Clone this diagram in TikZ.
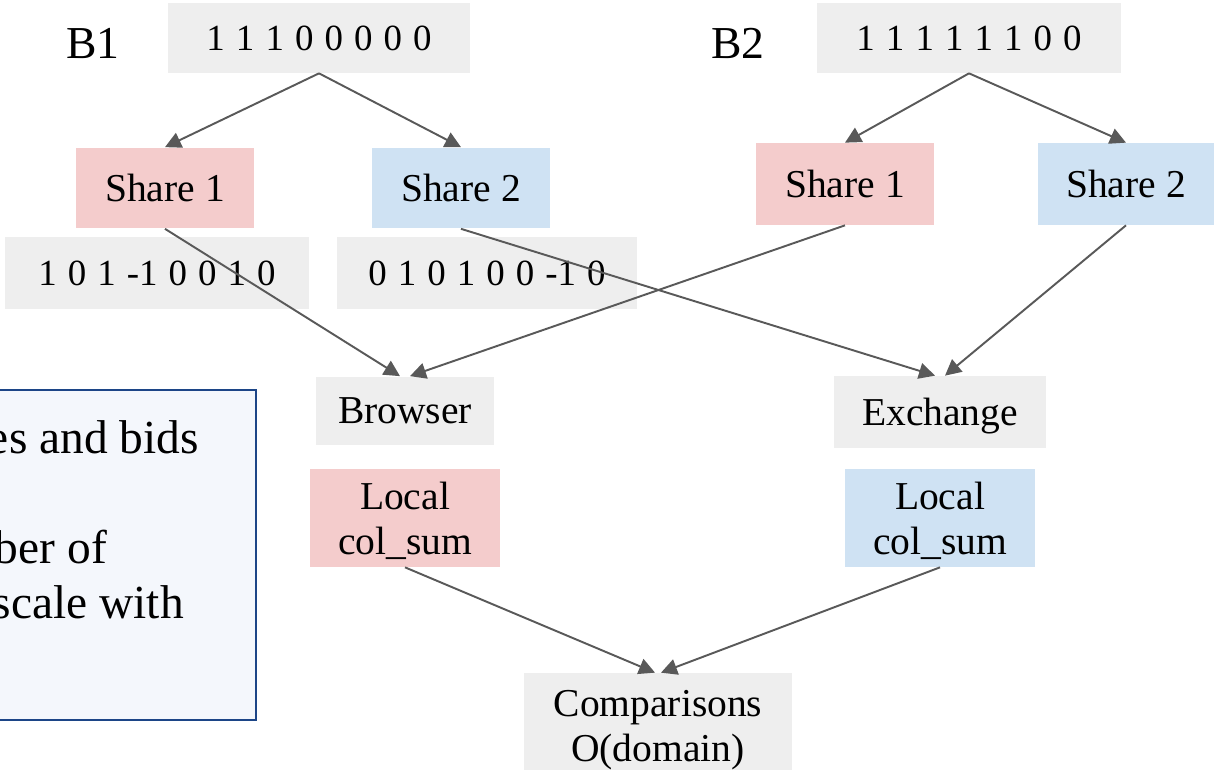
\documentclass[tikz,border=0pt]{standalone}
\usepackage{fontspec}
\setmainfont{Liberation Serif}
\usetikzlibrary{arrows.meta}
\definecolor{cellgrey}{HTML}{EEEEEE}
\definecolor{sharered}{HTML}{F4CCCC}
\definecolor{shareblue}{HTML}{CFE2F3}
\definecolor{linkgrey}{HTML}{595959}
\definecolor{notefill}{HTML}{F4F7FC}
\definecolor{noteline}{HTML}{1C4587}

\begin{document}
\begin{tikzpicture}[
  x=0.02cm, y=-0.02cm,
  font=\fontsize{22.5}{25.5}\selectfont,
  cell/.style={fill=cellgrey, inner sep=0pt, align=center, text depth=0pt},
  redcell/.style={cell, fill=sharered},
  bluecell/.style={cell, fill=shareblue},
  link/.style={-{Triangle[length=0.32cm, width=0.32cm]}, line width=1.1pt, linkgrey},
  bitfont/.style={font=\fontsize{21}{24}\selectfont,
    execute at begin node={\spaceskip=6.3pt\relax}},
  notefont/.style={anchor=base east, font=\fontsize{27}{32}\selectfont}
]
  \useasboundingbox (0,0) rectangle (1217,770);
  \clip (0,0) rectangle (1217,770);

  % side note, only its right part is on the page
  \draw[fill=notefill, draw=noteline, line width=1.3pt] (-40,390) rectangle (256,720);
  \node[notefont] (noteA) at (205,453) {es and bids};
  \node[notefont] (noteB) at (113,563) {ber of};
  \node[notefont] (noteC) at (190,618) {scale with};

  % bidder 1
  \node[font=\fontsize{26}{30}\selectfont] (labA) at (93,43) {B1};
  \node[cell, bitfont, minimum width=6.04cm, minimum height=1.4cm] (keyA) at (319,38) {1 1 1 0 0 0 0 0};
  \node[redcell, minimum width=3.58cm, minimum height=1.62cm] (shareAa) at (165,188) {Share 1};
  \node[bluecell, minimum width=3.58cm, minimum height=1.62cm] (shareAb) at (461,188) {Share 2};
  \node[cell, bitfont, minimum width=6.08cm, minimum height=1.46cm] (bitsAa) at (157,273) {1 0 1 -1 0 0 1 0};
  \node[cell, bitfont, minimum width=6.02cm, minimum height=1.46cm] (bitsAb) at (487,273) {0 1 0 1 0 0 -1 0};

  % bidder 2
  \node[font=\fontsize{26}{30}\selectfont] (labB) at (738,43) {B2};
  \node[cell, bitfont, minimum width=6.08cm, minimum height=1.4cm] (keyB) at (969,38) {1 1 1 1 1 1 0 0};
  \node[redcell, minimum width=3.58cm, minimum height=1.64cm] (shareBa) at (845,184) {Share 1};
  \node[bluecell, minimum width=3.54cm, minimum height=1.64cm] (shareBb) at (1126,184) {Share 2};

  % the two parties
  \node[cell, minimum width=3.56cm, minimum height=1.38cm] (browser) at (405,411) {Browser};
  \node[cell, minimum width=4.26cm, minimum height=1.44cm] (exchange) at (940,412) {Exchange};
  \node[redcell, minimum width=3.82cm, minimum height=1.96cm] (sumA) at (405,518) {Local\\col\_sum};
  \node[bluecell, minimum width=3.82cm, minimum height=1.96cm] (sumB) at (940,518) {Local\\col\_sum};
  \node[cell, minimum width=5.36cm, minimum height=2.12cm] (compare) at (658,726) {Comparisons\\O(domain)};

  \draw[link] (keyA.south) -- (shareAa.north);
  \draw[link] (keyA.south) -- (shareAb.north);
  \draw[link] (keyB.south) -- (shareBa.north);
  \draw[link] (keyB.south) -- (shareBb.north);
  \draw[link] (shareAa.south) -- ([xshift=-0.1cm]browser.north);
  \draw[link] (shareBa.south) -- ([xshift=0.1cm]browser.north);
  \draw[link] (shareAb.south) -- ([xshift=-0.1cm]exchange.north);
  \draw[link] (shareBb.south) -- ([xshift=0.1cm]exchange.north);
  \draw[link] (sumA.south) -- ([xshift=-0.06cm]compare.north);
  \draw[link] (sumB.south) -- ([xshift=0.06cm]compare.north);
\end{tikzpicture}
\end{document}
